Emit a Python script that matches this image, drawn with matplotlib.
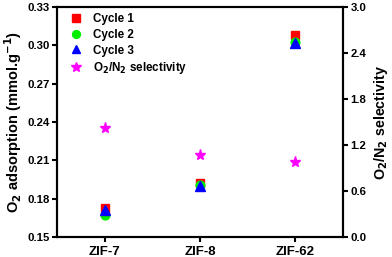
import matplotlib
matplotlib.use("Agg")
import matplotlib.pyplot as plt

plt.rcParams['font.family'] = ['Liberation Sans', 'DejaVu Sans']
plt.rcParams['font.weight'] = 'bold'
plt.rcParams['mathtext.default'] = 'bf'

categories = ["ZIF-7", "ZIF-8", "ZIF-62"]
cycle1 = [0.173, 0.192, 0.308]
cycle2 = [0.167, 0.191, 0.303]
cycle3 = [0.171, 0.190, 0.302]
selectivity = [1.42, 1.07, 0.98]
left_ticks = [0.15, 0.18, 0.21, 0.24, 0.27, 0.30, 0.33]
right_ticks = [0.0, 0.6, 1.2, 1.8, 2.4, 3.0]

fig = plt.figure(figsize=(3.92, 2.57), dpi=100)
ax = fig.add_axes([57/392, 20/257, 286/392, 230/257])
ax2 = ax.twinx()

x = list(range(len(categories)))
ms = 6.3
h1, = ax.plot(x, cycle1, 's', color='#ff0000', ms=ms, label='Cycle 1', zorder=3)
h2, = ax.plot(x, cycle2, 'o', color='#00ee00', ms=ms, label='Cycle 2', zorder=4)
h3, = ax.plot(x, cycle3, '^', color='#0000ff', ms=ms+0.5, label='Cycle 3', zorder=5)
h4, = ax2.plot(x, selectivity, '*', color='#ff00ff', ms=8, label='O$_2$/N$_2$ selectivity')

ax.set_xlim(-0.5, 2.5)
ax.set_ylim(0.15, 0.33)
ax2.set_ylim(0, 3.0)
ax.set_xticks(x)
ax.set_xticklabels(categories)
ax.set_yticks(left_ticks)
ax.set_yticklabels([f"{v:.2f}" for v in left_ticks])
ax2.set_yticks(right_ticks)
ax2.set_yticklabels([f"{v:.1f}" for v in right_ticks])

fs = 8.2
for a in (ax, ax2):
    for s in a.spines.values():
        s.set_linewidth(1.5)
    a.tick_params(width=1.5, length=3.8, labelsize=fs, pad=1.5)
ax.tick_params(axis='x', labelsize=9.5, pad=3)

ax.set_ylabel('O$_2$ adsorption (mmol.g$^{-1}$)', fontsize=10.5, fontweight='bold', labelpad=2)
ax2.set_ylabel('O$_2$/N$_2$ selectivity', fontsize=10.3, fontweight='bold', labelpad=4)

leg = ax.legend(handles=[h1, h2, h3, h4], loc='upper left', frameon=False,
                fontsize=8.4, handletextpad=0.95, labelspacing=0.33,
                borderaxespad=0.1, handlelength=1.0, markerscale=0.9,
                bbox_to_anchor=(0.025, 1.0))

fig.savefig('out.png', dpi=100)
